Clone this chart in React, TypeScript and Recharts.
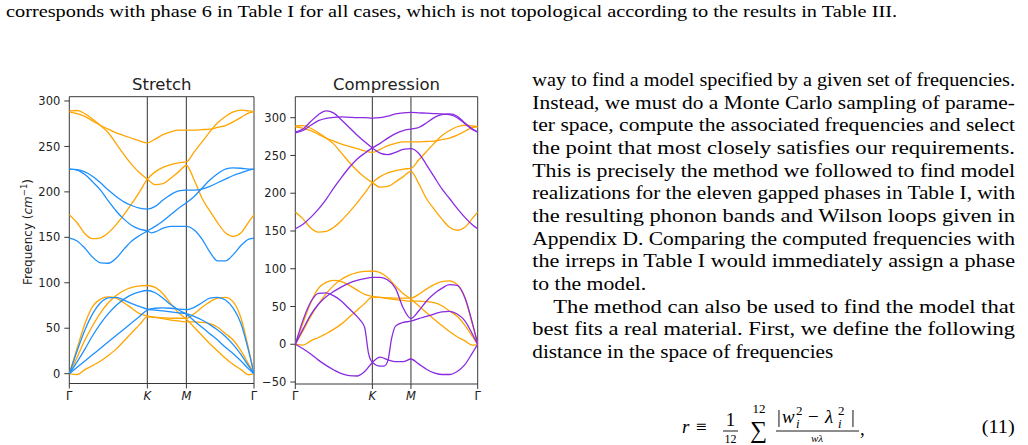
import React from 'react'
import { LineChart, Line, XAxis, YAxis, ReferenceLine, ReferenceArea } from 'recharts'

const _ = null

// positions along the path Γ–K–M–Γ (ΓK = 1, KM = 0.5, MΓ = √3/2)
const KPATH = [
  0, 0.1, 0.2, 0.3, 0.4, 0.5, 0.6, 0.7, 0.8, 0.85, 0.9, 0.95, 1.0, 1.05, 1.1,
  1.15, 1.2, 1.25, 1.3, 1.4, 1.5, 1.6, 1.7, 1.8, 1.9, 2.0, 2.1, 2.2, 2.3, 2.366,
]
const KTICKS = [0, 1, 1.5, 2.366]
const KLABELS = ['Γ', 'K', 'M', 'Γ']

// reference bands (orange), same in both panels
const ORANGE_BANDS = [
  [0, -1, 4.5, 9, 14, 20, 27, 36, 45, _, 54, _, 62.5, _, 62, _, 61.5, _, 61, 61, 61, 66, 73, 79, 83, 84, 79, 61, 26, 0],
  [0, 28, 55, 74, 82, 84.5, 83, 78, 72, _, 66, _, 63.5, _, 62, _, 60.5, _, 59, 58, 57, 57, 56.5, 55, 51, 44, 37, 25, 10, 0],
  [0, 18, 37, 53, 67, 78, 86, 91.5, 95, _, 96.5, _, 97, _, 95, _, 88, _, 77, 67, 60, 51, 42, 33, 25, 17, 10, 4.5, -1.2, 0],
  [288, 286, 283, 278, 273, 269, 265, 262, 259, _, 256, _, 254, _, 258, _, 263, _, 266, 268, 268, 268, 268.5, 269, 271, 273, 277, 282, 287, 288],
  [289, 289.5, 286, 280, 273, 265, 253, 241, 230, _, 221, _, 214, _, 208, _, 209, _, 215, 222, 229, 213, 193, 179, 166, 155, 151, 155, 167, 175],
  [175, 166, 154, 148.5, 149.5, 155, 164, 175, 187, _, 200, _, 214, _, 222, _, 227, _, 230, 232, 233, 244, 255, 266, 276, 283, 288, 290, 289, 288],
]

// stretch model (blue)
const STRETCH_BANDS = [
  [0, 25, 48, 66, 78, 83.5, 84, 81, 77, _, 74, _, 71, _, 70, _, 69, _, 68, 67, 66, 63, 59, 54, 48, 41, 32, 21, 8, 0],
  [0, 13, 27, 42, 55, 66, 75, 82, 87, _, 90, _, 91.5, _, 89, _, 83, _, 76, 70, 65.5, 58, 51, 44, 37, 29, 22, 14, 5, 0],
  [0, 7, 14, 21, 28, 35, 42, 49, 56, _, 63, _, 70, _, 72, _, 72.5, _, 72, 71, 70.5, 73, 78, 83, 84, 81, 72, 55, 24, 0],
  [225, 224.5, 222, 217, 210, 202, 195, 189, 185, _, 182, _, 181, _, 184, _, 191, _, 197, 201, 202, 202, 203, 206, 210, 214, 218, 221, 224, 225],
  [225, 224, 219, 211, 202, 190, 179, 170, 163, _, 159, _, 157, 155, 156, _, 160, _, 162, 162, 162, 158, 148, 134, 124, 124, 131, 141, 148, 149],
  [149, 146, 138, 128, 122, 121.5, 127, 137, 146, _, 152, _, 157, _, 162, _, 168, _, 175, 182, 188, 195, 204, 213, 220, 225, 226.5, 226, 225, 225],
]

// compression model (purple)
const COMPRESSION_BANDS = [
  [0, -6, -13, -21, -28, -34, -39, -41.5, -42, _, -36, _, -24, _, -17, _, -20.5, _, -23, -23, -19.5, -26, -33, -38, -40, -40, -36, -27, -11, 0],
  [0, 32, 56, 67.5, 68, 64, 57, 47, 37, 31, 22, -12, -24, _, -29, -29, -22, 8, 24, 29, 30.5, 34, 37, 40, 43, 43.5, 40, 31, 13, 0],
  [0, 20, 39, 53, 63, 70, 76, 81, 84.5, _, 87, _, 88.5, _, 88.5, _, 85, _, 74, 48, 34, 44, 57, 67, 74, 79, 78, 62, 27, 0],
  [153, 159, 168, 179, 192, 207, 221, 234, 245, _, 253, _, 260, _, 266, _, 273, _, 279, 283, 285, 287, 293, 300, 304, 305, 302, 293, 285, 281],
  [281, 285, 295, 304, 309, 306, 297, 287, 277, _, 268, _, 260, _, 253, _, 251, _, 254, 258, 259, 253, 238, 222, 206, 193, 180, 168, 158, 153],
  [280, 283, 290, 296, 299, 300.5, 301, 300.5, 300, _, 300, _, 299.5, _, 300, _, 302, _, 305, 306.5, 307, 306.5, 306, 305.5, 305, 304, 300, 292, 284, 281],
]

const STRETCH_YTICKS = [0, 50, 100, 150, 200, 250, 300]
const COMPRESSION_YTICKS = [-50, 0, 50, 100, 150, 200, 250, 300]

const CAPTION_TAIL =
  'corresponds with phase 6 in Table I for all cases, which is not topological according to the results in Table III.'

const BODY_LINES = [
  'way to find a model specified by a given set of frequencies.',
  'Instead, we must do a Monte Carlo sampling of parame-',
  'ter space, compute the associated frequencies and select',
  'the point that most closely satisfies our requirements.',
  'This is precisely the method we followed to find model',
  'realizations for the eleven gapped phases in Table I, with',
  'the resulting phonon bands and Wilson loops given in',
  'Appendix D. Comparing the computed frequencies with',
  'the irreps in Table I would immediately assign a phase',
  'to the model.',
  'The method can also be used to find the model that',
  'best fits a real material.  First, we define the following',
  'distance in the space of frequencies',
]

const ORANGE = '#ffa500'
const BLUE = '#1e90ff'
const PURPLE = '#8a2be2'
const INK = '#222'
const SANS = "'DejaVu Sans', sans-serif"
const SERIF = "'Liberation Serif', serif"
const GAMMA_END = KTICKS[3]

function buildRows(ref: (number | null)[][], model: (number | null)[][]) {
  return KPATH.map((x, i) => {
    const row: Record<string, number | null> = { x }
    ref.forEach((b, j) => (row['r' + j] = b[i]))
    model.forEach((b, j) => (row['m' + j] = b[i]))
    return row
  })
}

function KTick(props: any) {
  const { x, y, payload } = props
  const label = KLABELS[KTICKS.indexOf(payload.value)]
  const italic = label === 'K' || label === 'M'
  return (
    <text x={x} y={y} dy="0.71em" textAnchor="middle" fontSize={11.5} fontFamily={SANS} fill={INK} fontStyle={italic ? 'italic' : 'normal'}>
      {label}
    </text>
  )
}

const fmtTick = (v: number) => (v < 0 ? '\u2212' + Math.abs(v) : String(v))

interface PanelProps {
  left: number
  top: number
  width: number
  height: number
  margin: { top: number; right: number; bottom: number; left: number }
  yDomain: [number, number]
  yTicks: number[]
  bands: (number | null)[][]
  color: string
}

function BandPanel({ left, top, width, height, margin, yDomain, yTicks, bands, color }: PanelProps) {
  const rows = buildRows(ORANGE_BANDS, bands)
  return (
    <div style={{ position: 'absolute', left, top }}>
      <LineChart width={width} height={height} data={rows} margin={margin}>
        <XAxis
          type="number"
          dataKey="x"
          domain={[0, GAMMA_END]}
          ticks={KTICKS}
          interval={0}
          allowDataOverflow
          axisLine={false}
          tickLine={{ stroke: INK, strokeWidth: 0.9 }}
          tickSize={5}
          tickMargin={3}
          height={20}
          tick={<KTick />}
        />
        <YAxis
          type="number"
          domain={yDomain}
          ticks={yTicks}
          interval={0}
          allowDataOverflow
          axisLine={false}
          tickLine={{ stroke: INK, strokeWidth: 0.9 }}
          tickSize={5}
          tickMargin={4}
          width={40}
          tickFormatter={fmtTick}
          tick={{ fontSize: 11.5, fill: INK, fontFamily: SANS }}
        />
        <ReferenceLine x={1} stroke="#555" strokeWidth={1.2} />
        <ReferenceLine x={1.5} stroke="#555" strokeWidth={1.2} />
        {ORANGE_BANDS.map((_b, j) => (
          <Line key={'r' + j} dataKey={'r' + j} type="monotone" stroke={ORANGE} strokeWidth={1.3} dot={false} connectNulls isAnimationActive={false} />
        ))}
        {bands.map((_b, j) => (
          <Line key={'m' + j} dataKey={'m' + j} type="monotone" stroke={color} strokeWidth={1.3} dot={false} connectNulls isAnimationActive={false} />
        ))}
        <ReferenceArea x1={0} x2={GAMMA_END} y1={yDomain[0]} y2={yDomain[1]} fill="none" fillOpacity={0} stroke={INK} strokeWidth={0.9} ifOverflow="visible" />
      </LineChart>
    </div>
  )
}

function PageText() {
  const lineGap = 22.67
  const colLeft = 532.3
  const colRight = 1015
  // natural widths for paragraph-ending lines
  const lastWidths: Record<number, number> = { 9: 114, 12: 301 }
  return (
    <svg width={1028} height={445} style={{ position: 'absolute', left: 0, top: 0 }}>
      <text x={6} y={17} fontSize={16} fontFamily={SERIF} fill="#000" textLength={891} lengthAdjust="spacingAndGlyphs">
        {CAPTION_TAIL}
      </text>

      {BODY_LINES.map((line, i) => {
        const x = i === 10 ? 553.3 : colLeft
        const w = lastWidths[i] ?? colRight - x
        return (
          <text key={i} x={x} y={86 + i * lineGap} fontSize={18.9} fontFamily={SERIF} fill="#000" textLength={w} lengthAdjust="spacingAndGlyphs">
            {line}
          </text>
        )
      })}

      {/* equation (11), sitting on the page edge */}
      <g fontFamily={SERIF} fill="#000">
        <text x={682} y={433} fontSize={18.9} fontStyle="italic">r</text>
        <text x={696} y={433} fontSize={18.9}>≡</text>
        <text x={730.5} y={426} fontSize={18.9} textAnchor="middle">1</text>
        <line x1={723} x2={738} y1={431} y2={431} stroke="#000" strokeWidth={0.9} />
        <text x={730.5} y={443} fontSize={12} textAnchor="middle">12</text>
        <text x={759} y={413} fontSize={13} textAnchor="middle">12</text>
        <text x={758.5} y={438} fontSize={24} textAnchor="middle">∑</text>
        <text x={777} y={423} fontSize={18.9}>|</text>
        <text x={782} y={423} fontSize={18.9} fontStyle="italic">w</text>
        <text x={796} y={415} fontSize={13}>2</text>
        <text x={796} y={428} fontSize={13} fontStyle="italic">i</text>
        <text x={808} y={423} fontSize={18.9}>−</text>
        <text x={825} y={423} fontSize={18.9} fontStyle="italic">λ</text>
        <text x={838} y={415} fontSize={13}>2</text>
        <text x={838} y={428} fontSize={13} fontStyle="italic">i</text>
        <text x={851} y={423} fontSize={18.9}>|</text>
        <line x1={776} x2={859} y1={431} y2={431} stroke="#000" strokeWidth={0.9} />
        <text x={817} y={442} fontSize={11} fontStyle="italic" textAnchor="middle">wλ</text>
        <text x={860} y={435} fontSize={18.9}>,</text>
        <text x={981.7} y={433} fontSize={18.9} textLength={33} lengthAdjust="spacingAndGlyphs">(11)</text>
      </g>

      {/* panel titles and shared y label */}
      <text x={161.7} y={89.5} fontSize={16.5} fontFamily={SANS} fill={INK} textAnchor="middle">Stretch</text>
      <text x={386.5} y={89.5} fontSize={16.5} fontFamily={SANS} fill={INK} textAnchor="middle">Compression</text>
      <text transform="translate(31.5 232) rotate(-90)" fontSize={12} fontFamily={SANS} fill={INK} textAnchor="middle">
        Frequency (<tspan fontStyle="italic">cm</tspan>
        <tspan fontSize={8.5} dy={-5}>−1</tspan>
        <tspan dy={5}>)</tspan>
      </text>
    </svg>
  )
}

export default function App() {
  return (
    <div style={{ position: 'absolute', left: 0, top: 0, width: 1028, height: 445, overflow: 'hidden', background: '#fff' }}>
      <PageText />
      <BandPanel
        left={0}
        top={60}
        width={270}
        height={345}
        margin={{ top: 36.7, right: 16, bottom: 1.5, left: 29.3 }}
        yDomain={[-10.8, 304.7]}
        yTicks={STRETCH_YTICKS}
        bands={STRETCH_BANDS}
        color={BLUE}
      />
      <BandPanel
        left={250}
        top={60}
        width={240}
        height={345}
        margin={{ top: 36.7, right: 12.3, bottom: 1, left: 5.3 }}
        yDomain={[-52.6, 327.8]}
        yTicks={COMPRESSION_YTICKS}
        bands={COMPRESSION_BANDS}
        color={PURPLE}
      />
    </div>
  )
}
